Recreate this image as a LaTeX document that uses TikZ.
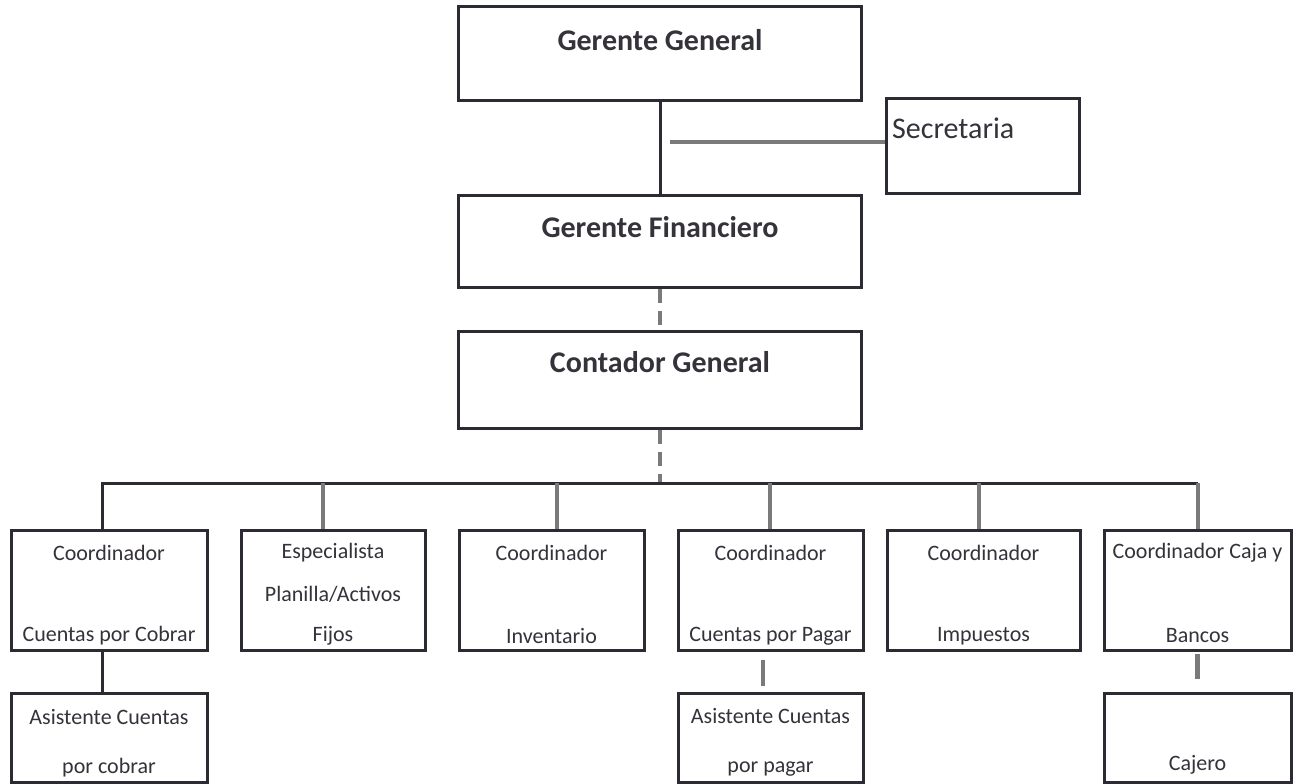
\documentclass[tikz,border=0pt]{standalone}
\usepackage{fontspec}
\setmainfont{Carlito}
\definecolor{ink}{HTML}{2E2A33}
\definecolor{txt}{HTML}{35323A}
\definecolor{link}{HTML}{7A7A7A}
\begin{document}
\begin{tikzpicture}[x=1pt,y=-1pt,
  box/.style={draw=ink,line width=3pt,fill=white,rectangle,inner sep=0pt},
  boss/.style={text=txt,font=\fontsize{30}{36}\selectfont\bfseries,inner sep=0pt,anchor=center},
  lbl/.style={text=txt,font=\fontsize{22}{26}\selectfont,inner sep=0pt,anchor=center},
  solidlink/.style={draw=ink,line width=3pt},
  greylink/.style={draw=link,line width=4.5pt},
  dashlink/.style={draw=link,line width=4.5pt,dash pattern=on 14pt off 8pt}]
\useasboundingbox (0,0) rectangle (1296,784);

% upper chain of command
\node[box,minimum width=403pt,minimum height=93pt] (gg) at (660,53.5) {};
\node[box,minimum width=193pt,minimum height=95pt] (sec) at (982.5,145.5) {};
\node[box,minimum width=403pt,minimum height=92pt] (gf) at (660,241) {};
\node[box,minimum width=403pt,minimum height=97pt] (cg) at (660,379.5) {};

\node[boss] (ggt) at (660,40) {Gerente General};
\node[boss] (gft) at (660,227) {Gerente Financiero};
\node[boss] (cgt) at (660,362) {Contador General};
\node[text=txt,font=\fontsize{30}{36}\selectfont,inner sep=0pt,anchor=west] (sect) at (892,128) {Secretaria};

% second level boxes
\node[box,minimum width=196pt,minimum height=120pt] (b1) at (109,590) {};
\node[box,minimum width=184pt,minimum height=120pt] (b2) at (333,590) {};
\node[box,minimum width=185pt,minimum height=120pt] (b3) at (551.5,590) {};
\node[box,minimum width=185pt,minimum height=120pt] (b4) at (770.5,590) {};
\node[box,minimum width=193pt,minimum height=120pt] (b5) at (983.5,590) {};
\node[box,minimum width=187pt,minimum height=120pt] (b6) at (1197.5,590) {};

% assistants
\node[box,minimum width=196pt,minimum height=89pt] (a1) at (109,737.5) {};
\node[box,minimum width=185pt,minimum height=89pt] (a4) at (770.5,737.5) {};
\node[box,minimum width=187pt,minimum height=89pt] (a6) at (1197.5,737.5) {};

% labels of the lower boxes
\node[lbl] (b1a) at (109,553) {Coordinador};
\node[lbl] (b1b) at (109,636) {Cuentas por Cobrar};
\node[lbl] (b2a) at (333,553) {Especialista};
\node[lbl] (b2b) at (333,594) {Planilla/Activos};
\node[lbl] (b2c) at (333,636) {Fijos};
\node[lbl] (b3a) at (551.5,553) {Coordinador};
\node[lbl] (b3b) at (551.5,636) {Inventario};
\node[lbl] (b4a) at (770.5,553) {Coordinador};
\node[lbl] (b4b) at (770.5,636) {Cuentas por Pagar};
\node[lbl] (b5a) at (983.5,553) {Coordinador};
\node[lbl] (b5b) at (983.5,636) {Impuestos};
\node[lbl] (b6a) at (1197.5,553) {Coordinador Caja y};
\node[lbl] (b6b) at (1197.5,636) {Bancos};
\node[lbl] (a1a) at (109,717) {Asistente Cuentas};
\node[lbl] (a1b) at (109,768) {por cobrar};
\node[lbl] (a4a) at (770.5,716) {Asistente Cuentas};
\node[lbl] (a4b) at (770.5,769) {por pagar};
\node[lbl] (a6a) at (1197.5,765) {Cajero};

% connectors
\coordinate (secjoin) at (670,142);
\coordinate (busL) at (102,483);
\coordinate (busR) at (1198,483);
\coordinate (d2) at (323,483);
\coordinate (d3) at (557,483);
\coordinate (d4) at (770,483);
\coordinate (d5) at (979,483);
\coordinate (d7) at (763,0);

\draw[solidlink] (gg.south) -- (gf.north);
\draw[greylink] (secjoin) -- (sec.west |- secjoin);
\draw[dashlink] (gf.south) -- (cg.north);
\draw[dashlink] (cg.south) -- (cg.south |- busL);
\draw[solidlink] (b1.north -| busL) -- (busL) -- (busR);
\draw[greylink] (d2) -- (b2.north -| d2);
\draw[greylink] (d3) -- (b3.north -| d3);
\draw[greylink] (d4) -- (b4.north -| d4);
\draw[greylink] (d5) -- (b5.north -| d5);
\draw[greylink] (busR) -- (b6.north -| busR);
\draw[solidlink] (b1.south -| busL) -- (a1.north -| busL);
\draw[greylink] ([yshift=-8pt]b4.south -| d7) -- ([yshift=6pt]a4.north -| d7);
\draw[greylink] ([yshift=-2pt]b6.south) -- ([yshift=13pt]a6.north);
\end{tikzpicture}
\end{document}
